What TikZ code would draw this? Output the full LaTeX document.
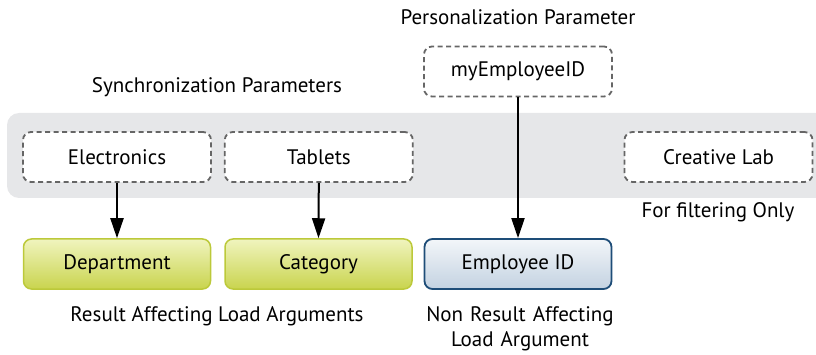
\documentclass[tikz,border=0pt]{standalone}
\usepackage{fontspec}
\setmainfont{PT Sans}
\usepackage{tikz}
\usetikzlibrary{arrows.meta,positioning}
\definecolor{bandgray}{HTML}{E6E7E9}
\definecolor{dashgray}{HTML}{666666}
\definecolor{greentop}{HTML}{F0F4BE}
\definecolor{greenbot}{HTML}{C9D44E}
\definecolor{greenborder}{HTML}{BCC93A}
\definecolor{bluetop}{HTML}{F3F6F9}
\definecolor{bluebot}{HTML}{C3D2E1}
\definecolor{blueborder}{HTML}{1E4D78}

\begin{document}
\begin{tikzpicture}[
  x=1pt, y=-1pt,
  font=\fontsize{21}{24}\selectfont,
  parambox/.style={
    draw=dashgray,
    fill=white,
    dashed,
    dash pattern=on 5pt off 3.5pt,
    rounded corners=8pt,
    line width=1.8pt,
    minimum width=188pt,
    minimum height=50pt
  },
  resultarg/.style={
    draw=greenborder,
    top color=greentop,
    bottom color=greenbot,
    rounded corners=8pt,
    line width=1.5pt,
    minimum width=187pt,
    minimum height=50pt
  },
  nonresultarg/.style={
    draw=blueborder,
    top color=bluetop,
    bottom color=bluebot,
    rounded corners=8pt,
    line width=1.8pt,
    minimum width=187pt,
    minimum height=50pt
  },
  paramarrow/.style={
    -{Triangle[length=20pt,width=13pt]},
    line width=2pt,
    draw=black
  },
  caption/.style={
    align=center,
    inner sep=0pt
  }
]

  \clip (0,0) rectangle (816,355);

  % Gray band of synchronization parameters
  \fill[bandgray, rounded corners=12pt] (7,113) rectangle (850,198);

  % --- Parameter row ---
  \node[parambox] (electronics) at (117,157) {Electronics};
  \node[parambox, right=12pt of electronics] (tablets) {Tablets};
  \node[parambox] (creativelab) at (718.5,157) {Creative Lab};
  \node[parambox] (myemployee) at (518,71.5) {myEmployeeID};

  % --- Load argument row ---
  \node[resultarg] (department) at (117,264) {Department};
  \node[resultarg, right=13pt of department] (category) {Category};
  \node[nonresultarg] (employeeid) at (518,264) {Employee ID};

  % Labels
  \node[caption] (synclabel) at (217,87) {Synchronization Parameters};
  \node[caption] (perslabel) at (518,17) {Personalization Parameter};
  \node[caption] (filterlabel) at (718,212) {For filtering Only};
  \node[caption] (resultlabel) at (217,316) {Result Affecting Load Arguments};
  \node[caption, text width=260pt] (nonresultlabel) at (520,329) {Non Result Affecting\\[1pt]Load Argument};

  % Connecting Arrows
  \draw[paramarrow] (electronics.south) -- (department.north);
  \draw[paramarrow] (tablets.south) -- (category.north);
  \draw[paramarrow] (myemployee.south) -- (employeeid.north);

\end{tikzpicture}
\end{document}
